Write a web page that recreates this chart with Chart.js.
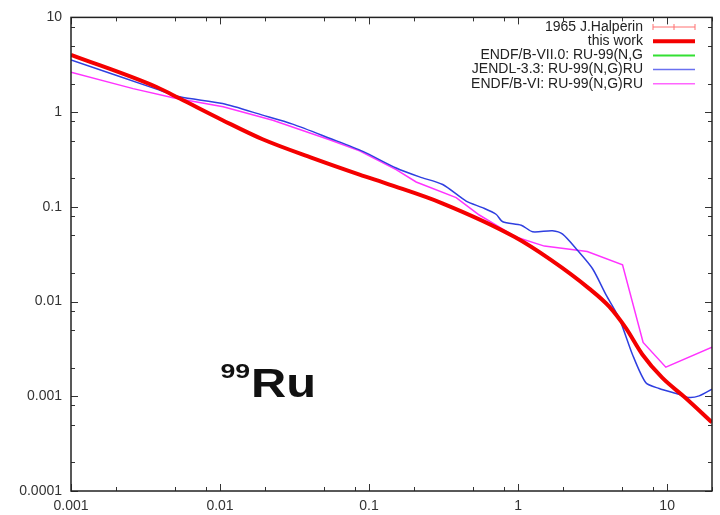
<!DOCTYPE html>
<html><head><meta charset="utf-8">
<script src="https://cdn.jsdelivr.net/npm/chart.js@4.4.1/dist/chart.umd.min.js"></script>
<style>html,body{margin:0;padding:0;background:#fff}canvas{display:block}</style>
</head><body>
<canvas id="c" width="720" height="515"></canvas>
<script>
// ---- data ----
const xTickLabels = ["0.001", "0.01", "0.1", "1", "10"];
const yTickLabels = ["0.0001", "0.001", "0.01", "0.1", "1", "10"];
const minorMultipliers = [2, 5, 8];

const seriesNames = ["1965 J.Halperin", "this work", "ENDF/B-VII.0: RU-99(N,G", "JENDL-3.3: RU-99(N,G)RU", "ENDF/B-VI: RU-99(N,G)RU"];

const halperinX = [];
const halperinY = [];

const thisWorkX = [0.001, 0.00375, 0.00537, 0.0104, 0.0193, 0.0418, 0.0863, 0.137, 0.31, 0.95, 1.65, 3.0, 4.09, 5.29, 6.80, 9.26, 13.3, 20];
const thisWorkY = [4.03, 1.84, 1.39, 0.822, 0.517, 0.327, 0.219, 0.172, 0.109, 0.048, 0.0277, 0.0137, 0.00883, 0.00523, 0.00278, 0.00157, 0.00096, 0.00053];

const endf7X = [];
const endf7Y = [];

const jendlX = [0.001, 0.00375, 0.00537, 0.0104, 0.0193, 0.0307, 0.0543, 0.0908, 0.152, 0.218, 0.312, 0.448, 0.577, 0.711, 0.789, 1.05, 1.25, 1.70, 1.99, 2.51, 3.16, 3.90, 4.77, 5.86, 7.2, 8.84, 12.0, 14.0, 16.4, 20];
const jendlY = [3.55, 1.75, 1.45, 1.23, 0.929, 0.747, 0.530, 0.385, 0.257, 0.207, 0.172, 0.115, 0.098, 0.0835, 0.0695, 0.064, 0.0546, 0.056, 0.0515, 0.0346, 0.0222, 0.0117, 0.00665, 0.00275, 0.00139, 0.00121, 0.00105, 0.00097, 0.00101, 0.00119];

const endf6X = [0.001, 0.00261, 0.00484, 0.0105, 0.0226, 0.0543, 0.0863, 0.152, 0.207, 0.384, 0.549, 0.968, 1.5, 2.91, 5.02, 6.9, 9.8, 20];
const endf6Y = [2.64, 1.77, 1.42, 1.14, 0.822, 0.51, 0.39, 0.247, 0.183, 0.125, 0.082, 0.048, 0.0385, 0.0337, 0.0244, 0.0037, 0.00203, 0.00329];

const pts = (xs, ys) => xs.map((x, i) => ({x: x, y: ys[i]}));

function tickSet(labels, max) {
  const out = [];
  labels.forEach(l => {
    const v = parseFloat(l);
    out.push({value: v, major: true});
    minorMultipliers.forEach(m => { if (v * m <= max * 1.0001) out.push({value: v * m, major: false}); });
  });
  return out.sort((a, b) => a.value - b.value);
}
const X_MIN = 0.001, X_MAX = 20, Y_MIN = 0.0001, Y_MAX = 10;
const xTicks = tickSet(xTickLabels, X_MAX);
const yTicks = tickSet(yTickLabels, Y_MAX);

function labelFor(labels, v) {
  for (const l of labels) { if (Math.abs(parseFloat(l) - v) / v < 1e-6) return l; }
  return '';
}

const FONT = '"Liberation Sans", Arial, Helvetica, sans-serif';

const decor = {
  id: 'decor',
  afterDatasetsDraw(chart) {
    const ctx = chart.ctx, a = chart.chartArea;
    const xs = chart.scales.x, ys = chart.scales.y;
    ctx.save();
    // ticks (inward, mirrored)
    ctx.strokeStyle = '#333';
    ctx.lineWidth = 1;
    xTicks.forEach(t => {
      const px = Math.round(xs.getPixelForValue(t.value)) + 0.5;
      const len = t.major ? 7 : 4;
      ctx.beginPath();
      ctx.moveTo(px, a.bottom); ctx.lineTo(px, a.bottom - len);
      ctx.moveTo(px, a.top); ctx.lineTo(px, a.top + len);
      ctx.stroke();
    });
    yTicks.forEach(t => {
      const py = Math.round(ys.getPixelForValue(t.value)) + 0.5;
      const len = t.major ? 7 : 4;
      ctx.beginPath();
      ctx.moveTo(a.left, py); ctx.lineTo(a.left + len, py);
      ctx.moveTo(a.right, py); ctx.lineTo(a.right - len, py);
      ctx.stroke();
    });
    // frame
    ctx.strokeStyle = '#222';
    ctx.lineWidth = 1.5;
    ctx.strokeRect(a.left, a.top, a.right - a.left, a.bottom - a.top);

    // legend
    ctx.font = '14px ' + FONT;
    ctx.textAlign = 'right';
    ctx.textBaseline = 'middle';
    const rowY0 = 27, rowH = 14.2, textRight = 643, s0 = 653, s1 = 695;
    chart.data.datasets.forEach((ds, i) => {
      const y = rowY0 + i * rowH;
      ctx.fillStyle = '#222';
      ctx.fillText(ds.label, textRight, y);
      ctx.strokeStyle = ds.legendColor || ds.borderColor;
      ctx.lineWidth = ds.borderWidth;
      ctx.beginPath();
      ctx.moveTo(s0, y); ctx.lineTo(s1, y);
      if (ds.errorBarSample) {
        [s0, (s0 + s1) / 2, s1].forEach(px => { ctx.moveTo(px, y - 3); ctx.lineTo(px, y + 3); });
      }
      ctx.stroke();
    });

    // nucleus label
    ctx.fillStyle = '#111';
    ctx.textAlign = 'left';
    ctx.textBaseline = 'alphabetic';
    ctx.save();
    ctx.translate(220.5, 378);
    ctx.scale(1.27, 1);
    ctx.font = 'bold 21px ' + FONT;
    ctx.fillText('99', 0, 0);
    ctx.restore();
    ctx.save();
    ctx.translate(251, 396.5);
    ctx.scale(1.22, 1);
    ctx.font = 'bold 40px ' + FONT;
    ctx.fillText('Ru', 0, 0);
    ctx.restore();
    ctx.restore();
  }
};

new Chart(document.getElementById('c'), {
  type: 'line',
  data: {
    datasets: [
      {label: seriesNames[0], data: pts(halperinX, halperinY), borderColor: '#ff7070', borderWidth: 1, errorBarSample: true, pointRadius: 0},
      {label: seriesNames[1], data: pts(thisWorkX, thisWorkY), borderColor: '#f40000', borderWidth: 4, pointRadius: 0, cubicInterpolationMode: 'monotone'},
      {label: seriesNames[2], data: pts(endf7X, endf7Y), borderColor: '#33e033', borderWidth: 2, pointRadius: 0},
      {label: seriesNames[3], data: pts(jendlX, jendlY), borderColor: '#2f3fe0', legendColor: '#6a70f0', borderWidth: 1.5, pointRadius: 0, tension: 0.25},
      {label: seriesNames[4], data: pts(endf6X, endf6Y), borderColor: '#ff33ff', legendColor: '#ff66ff', borderWidth: 1.5, pointRadius: 0, tension: 0}
    ]
  },
  options: {
    responsive: false,
    animation: false,
    layout: {padding: {left: 0, top: 13, right: 8, bottom: 0}},
    plugins: {legend: {display: false}, tooltip: {enabled: false}},
    scales: {
      x: {
        type: 'logarithmic', min: X_MIN, max: X_MAX,
        afterBuildTicks: s => { s.ticks = xTicks.map(t => ({value: t.value})); },
        afterFit: s => { s.height = 24; },
        grid: {display: false, drawTicks: false},
        border: {display: false},
        ticks: {autoSkip: false, maxRotation: 0, padding: 7, color: '#333', font: {family: FONT, size: 14},
          callback: v => labelFor(xTickLabels, v)}
      },
      y: {
        type: 'logarithmic', min: Y_MIN, max: Y_MAX,
        afterBuildTicks: s => { s.ticks = yTicks.map(t => ({value: t.value})); },
        afterFit: s => { s.width = 71; },
        grid: {display: false, drawTicks: false},
        border: {display: false},
        ticks: {autoSkip: false, padding: 9, color: '#333', font: {family: FONT, size: 14},
          callback: v => labelFor(yTickLabels, v)}
      }
    }
  },
  plugins: [decor]
});
</script>
</body></html>
